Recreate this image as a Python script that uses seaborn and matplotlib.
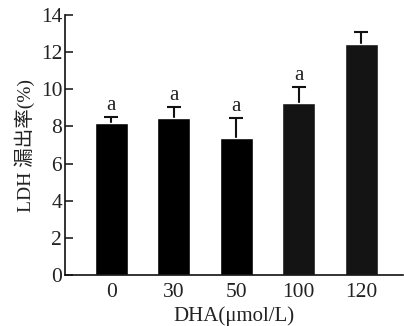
import matplotlib
matplotlib.use("Agg")
import matplotlib.pyplot as plt
import seaborn as sns
import pandas as pd
import numpy as np

categories = ["0", "30", "50", "100", "120"]
values = [8.2, 8.44, 7.36, 9.26, 12.42]
errors = [0.32, 0.62, 1.08, 0.84, 0.68]
letters = ["a", "a", "a", "a", ""]
bar_colors = ["#000000", "#000000", "#000000", "#141414", "#141414"]

sns.set_theme(style="ticks")
plt.rcParams["font.family"] = ["Liberation Serif", "Noto Sans CJK SC"]

df = pd.DataFrame({"dose": categories, "ldh": values})

fig = plt.figure(figsize=(4.04, 3.26), dpi=100)
ax = fig.add_axes([65/404, 1 - 275/326, (403-65)/404, (275-15)/326])

x = np.arange(len(categories))
ax.errorbar(x, values, yerr=errors, fmt="none", ecolor="#111111",
            elinewidth=1.5, capsize=5, capthick=1.5, zorder=1)

sns.barplot(data=df, x="dose", y="ldh", hue="dose", palette=bar_colors,
            legend=False, width=0.53, ax=ax, saturation=1, errorbar=None,
            zorder=2)

for xi, v, e, l in zip(x, values, errors, letters):
    if l:
        ax.text(xi, v + e + 0.12, l, ha="center", va="bottom", fontsize=15,
                color="#222222")

ax.set_xlim(-0.74, 4.67)
ax.set_ylim(0, 14)
ax.set_yticks(range(0, 15, 2))
ax.tick_params(axis="y", direction="in", length=6, width=1.2, labelsize=15.5,
               colors="#222222", pad=2)
ax.tick_params(axis="x", length=0, labelsize=15.5, colors="#222222", pad=6)
for s in ["top", "right"]:
    ax.spines[s].set_visible(False)
for s in ["left", "bottom"]:
    ax.spines[s].set_linewidth(1.2)
    ax.spines[s].set_color("#111111")
ax.set_xlabel("DHA(μmol/L)", fontsize=15, color="#222222", labelpad=3)
ax.set_ylabel("LDH 漏出率(%)", fontsize=14, color="#222222", labelpad=4)

fig.savefig("out.png", dpi=100)
